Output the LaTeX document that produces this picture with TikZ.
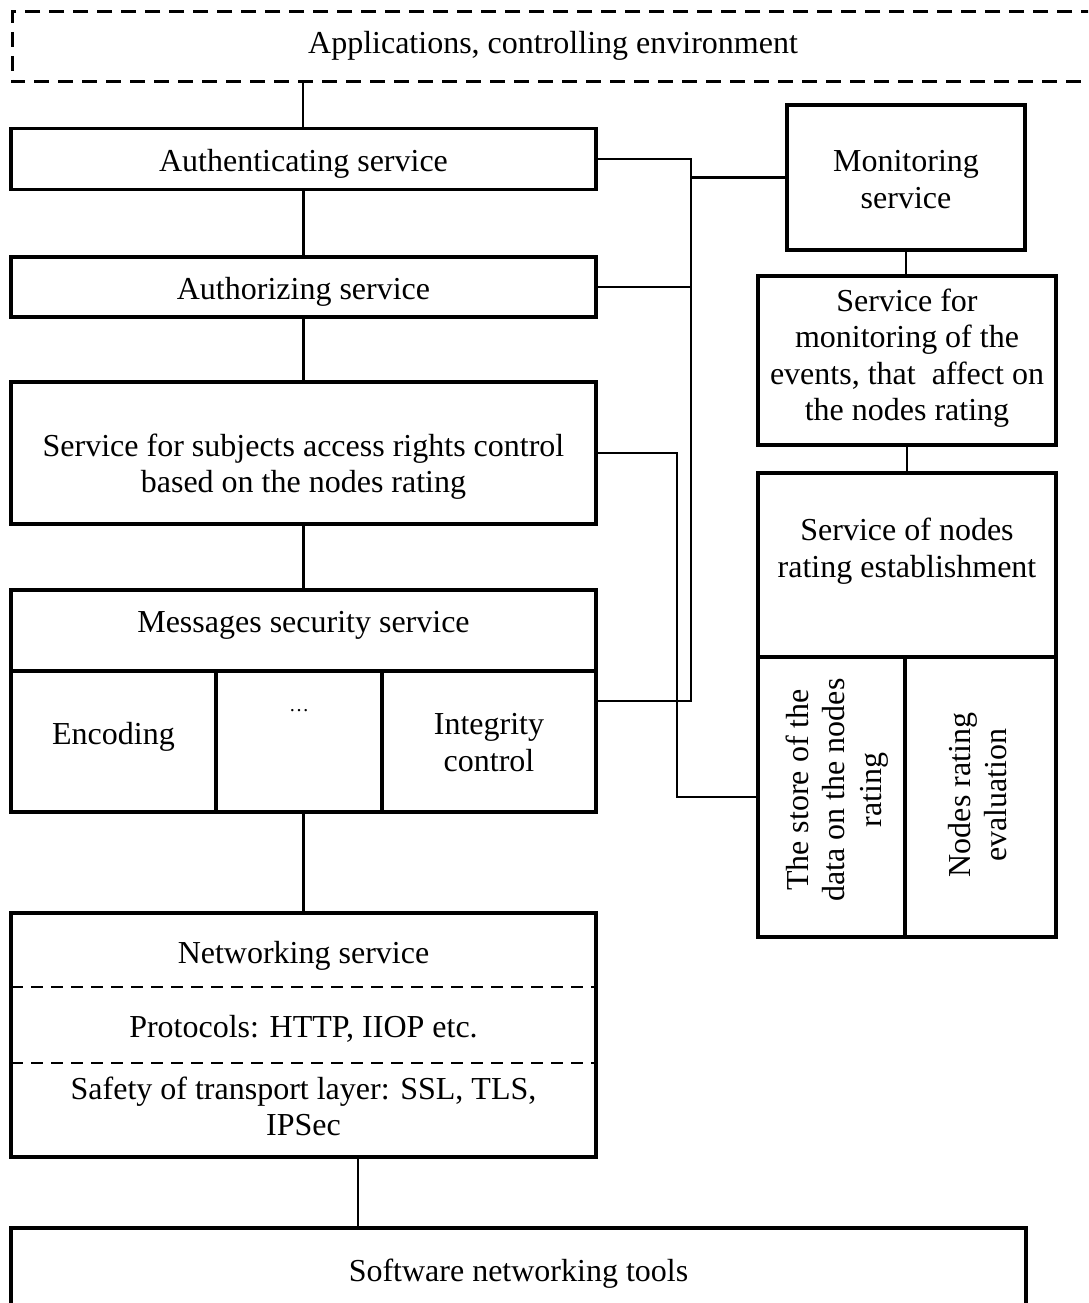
\documentclass[tikz,border=0pt]{standalone}
\usepackage{fontspec}
\setmainfont{Liberation Serif}
\begin{document}
\begin{tikzpicture}[x=1pt,y=-1pt,
  box/.style={draw,line width=3.4pt,rectangle,inner sep=0pt,outer sep=0pt},
  txt/.style={align=center,inner sep=0pt,font=\fontsize{32}{36.5}\selectfont,
    execute at begin node=\strut,execute at end node=\strut},
  conn/.style={line width=2.3pt},
  divdash/.style={line width=2.4pt,dash pattern=on 12pt off 8pt},
  ]
\useasboundingbox (0,0) rectangle (1088,1303);
\clip (0,0) rectangle (1088,1303);

% top dashed environment
\draw[line width=3pt,dash pattern=on 15pt off 9pt] (1120,12) -- (12,12) -- (12,82) -- (1120,82);
\node[txt] (app) at (553,45.75) {Applications, controlling environment};
\coordinate (appB) at (303,82);

% left column boxes
\node[box,minimum width=585pt,minimum height=61pt] (auth) at (303.5,159) {};
\node[txt] (authT) at (303.5,164.5) {Authenticating service};
\node[box,minimum width=585pt,minimum height=60pt] (authz) at (303.5,287) {};
\node[txt] (authzT) at (303.5,292) {Authorizing service};
\node[box,minimum width=585pt,minimum height=142pt] (subj) at (303.5,453) {};
\node[txt] (subjT) at (303.5,468.5) {Service for subjects access rights control\\based on the nodes rating};

\node[box,minimum width=585pt,minimum height=222pt] (msg) at (303.5,701) {};
\node[box,minimum width=205pt,minimum height=141pt] (enc) at (113.5,741.5) {};
\node[box,minimum width=166pt,minimum height=141pt] (dotsC) at (299,741.5) {};
\node[box,minimum width=214pt,minimum height=141pt] (integ) at (489,741.5) {};
\node[txt] (msgT) at (303.5,625.5) {Messages security service};
\node[txt] (encT) at (113.5,737) {Encoding};
\node[inner sep=0pt,font=\fontsize{20}{24}\selectfont] (dotsT) at (299,711) {…};
\node[txt] (integT) at (489,748) {Integrity\\control};

\node[box,minimum width=585pt,minimum height=244pt] (net) at (303.5,1035) {};
\draw[divdash] (net.west |- 0,987) -- (net.east |- 0,987);
\draw[divdash] (net.west |- 0,1063) -- (net.east |- 0,1063);
\node[txt] (netT) at (303.5,956.5) {Networking service};
\node[txt] (protT) at (303.5,1030.5) {Protocols: HTTP, IIOP etc.};
\node[txt] (safT) at (303.5,1111.5) {Safety of transport layer: SSL, TLS,\\IPSec};

\node[box,minimum width=1015pt,minimum height=102pt] (soft) at (518.5,1279) {};
\node[txt] (softT) at (518.5,1274) {Software networking tools};

% right column
\node[box,minimum width=238pt,minimum height=145pt] (mon) at (906,177.5) {};
\node[txt] (monT) at (906,185) {Monitoring\\service};
\node[box,minimum width=298pt,minimum height=169pt] (ev) at (907,360.5) {};
\node[txt] (evT) at (907,360) {Service for\\monitoring of the\\events, that\ \ affect on\\the nodes rating};
\node[box,minimum width=298pt,minimum height=464pt] (est) at (907,705) {};
\node[txt] (estT) at (907,553) {Service of nodes\\rating establishment};
\node[box,minimum width=147pt,minimum height=280pt] (store) at (831.5,797) {};
\node[box,minimum width=151pt,minimum height=280pt] (evalC) at (980.5,797) {};
\node[txt,rotate=90] (storeT) at (839,790) {The store of the\\data on the nodes\\rating};
\node[txt,rotate=90] (evalT) at (983,795) {Nodes rating\\evaluation};

% vertical connectors
\draw[conn] (appB) -- (appB |- auth.north);
\draw[conn] (auth) -- (authz);
\draw[conn] (authz) -- (subj);
\draw[conn] (subj) -- (msg);
\draw[conn] (msg) -- (net);
\draw[conn] ([xshift=54.5pt]net.south) -- ([xshift=54.5pt]net.south |- soft.north);
\draw[conn] (mon.south) -- (mon.south |- ev.north);
\draw[conn] (ev.south) -- (ev.south |- est.north);

% bus to monitoring
\coordinate (bx) at (691,0);
\draw[conn] (auth.east) -- (bx |- auth.east) -- (bx |- msg.east) -- (msg.east);
\draw[conn] (authz.east) -- (bx |- authz.east);
\draw[conn] (bx |- mon.west) -- (mon.west);

% access control to the rating store
\coordinate (cx) at (677,0);
\draw[conn] (subj.east) -- (cx |- subj.east) -- (cx |- store.west) -- (store.west);
\end{tikzpicture}
\end{document}
